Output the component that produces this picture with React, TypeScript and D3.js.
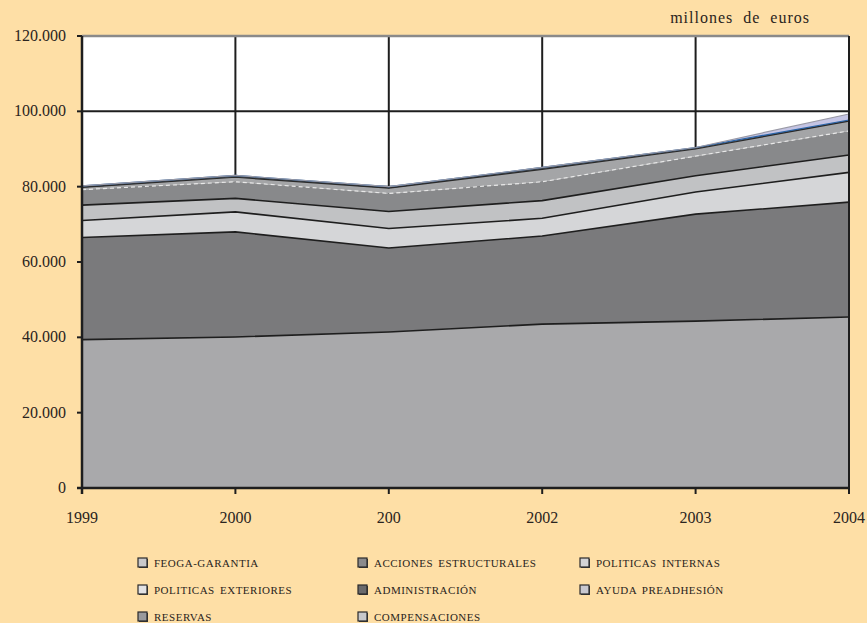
import React from "react";
import * as d3 from "d3";

const years = ["1999", "2000", "2001", "2002", "2003", "2004"];
const yearLabels = ["1999", "2000", "200", "2002", "2003", "2004"];
const yTicks = [0, 20000, 40000, 60000, 80000, 100000, 120000];
const yTickLabels = ["0", "20.000", "40.000", "60.000", "80.000", "100.000", "120.000"];

const feoga = [39400, 40100, 41400, 43500, 44300, 45400];
const acciones = [27100, 27900, 22300, 23400, 28400, 30500];
const internas = [4500, 5300, 5200, 4700, 5900, 7900];
const exteriores = [4100, 3600, 4500, 4700, 4300, 4600];
const administracion = [4100, 4400, 4800, 5000, 5200, 6400];
const preadhesion = [600, 1200, 1400, 3300, 1900, 2600];
const reservas = [400, 500, 400, 500, 400, 300];
const compensaciones = [0, 0, 0, 0, 0, 1600];

const seriesNames = [
  "FEOGA-GARANTIA",
  "ACCIONES ESTRUCTURALES",
  "POLITICAS INTERNAS",
  "POLITICAS EXTERIORES",
  "ADMINISTRACIÓN",
  "AYUDA PREADHESIÓN",
  "RESERVAS",
  "COMPENSACIONES",
];
const seriesValues = [feoga, acciones, internas, exteriores, administracion, preadhesion, reservas, compensaciones];
const fills = ["#a9a9ab", "#7a7a7c", "#d5d6d8", "#c1c2c4", "#88898b", "#a4a5a7", "#44505e", "#c4c4e4"];
const topStrokes = ["#1e1e1e", "#1e1e1e", "#1e1e1e", "#1e1e1e", "#e8e8e8", "#2a2a2a", "#2a64a8", "#9a9aa6"];
const topDash = ["", "", "", "", "4,3", "", "", ""];
const legendFills = ["#c9c9cb", "#8a8a8c", "#d3d3d5", "#e2e2e4", "#6a6a6c", "#c8c8d0", "#9a9a9c", "#c8c8ca"];

const W = 867;
const H = 623;
const L = 82, R = 849, T = 36, B = 488;

export default function App() {
  const x = d3.scalePoint<string>().domain(years).range([L, R]);
  const y = d3.scaleLinear().domain([0, 120000]).range([B, T]);

  const table = years.map((yr, i) => {
    const row: any = { year: yr };
    seriesNames.forEach((n, k) => (row[n] = seriesValues[k][i]));
    return row;
  });
  const stacked = d3.stack<any>().keys(seriesNames)(table);

  const area = d3
    .area<any>()
    .x((d) => x(d.data.year) as number)
    .y0((d) => y(d[0]))
    .y1((d) => y(d[1]));
  const line = d3
    .line<any>()
    .x((d) => x(d.data.year) as number)
    .y((d) => y(d[1]));

  const legendCols = [138, 358, 580];
  const legendRows = [563, 590, 617];

  return (
    <div style={{ position: "absolute", left: 0, top: 0 }}>
      <svg width={W} height={H} style={{ display: "block" }}>
        <rect x={0} y={0} width={W} height={H} fill="#fedfa6" />
        <rect x={L} y={T} width={R - L} height={B - T} fill="#ffffff" />
        {/* grid */}
        {yTicks.slice(1, -1).map((t) => (
          <line key={"h" + t} x1={L} x2={R} y1={y(t)} y2={y(t)} stroke="#1e1e1e" strokeWidth={2} />
        ))}
        {years.slice(1).map((yr) => (
          <line key={"v" + yr} x1={x(yr)} x2={x(yr)} y1={T} y2={B} stroke="#1e1e1e" strokeWidth={2} />
        ))}
        <line x1={L} x2={R} y1={T} y2={T} stroke="#8a8a8a" strokeWidth={2.5} />
        {/* areas */}
        {stacked.map((s, k) => (
          <path key={"a" + k} d={area(s) as string} fill={fills[k]} stroke="none" />
        ))}
        {stacked.map((s, k) => (
          <path
            key={"l" + k}
            d={line(s) as string}
            fill="none"
            stroke={topStrokes[k]}
            strokeWidth={k >= 4 ? 1.2 : 1.6}
            strokeDasharray={topDash[k] || undefined}
          />
        ))}
        {/* right gridline on top */}
        <line x1={R} x2={R} y1={T} y2={B + 6} stroke="#1e1e1e" strokeWidth={2} />
        {/* axes */}
        <line x1={L} x2={L} y1={T} y2={B + 6} stroke="#1e1e1e" strokeWidth={2.5} />
        <line x1={L - 5} x2={R} y1={B} y2={B} stroke="#1e1e1e" strokeWidth={2.5} />
        {yTicks.map((t, i) => (
          <g key={"yt" + t}>
            <line x1={L - 5} x2={L} y1={y(t)} y2={y(t)} stroke="#1e1e1e" strokeWidth={2} />
            <text
              x={66}
              y={y(t) + 5}
              textAnchor="end"
              fontFamily="'Liberation Serif', serif"
              fontSize={16}
              fill="#2a2420"
            >
              {yTickLabels[i]}
            </text>
          </g>
        ))}
        {years.map((yr, i) => (
          <g key={"xt" + yr}>
            <line x1={x(yr)} x2={x(yr)} y1={B} y2={B + 6} stroke="#1e1e1e" strokeWidth={2} />
            <text
              x={x(yr)}
              y={523}
              textAnchor="middle"
              fontFamily="'Liberation Serif', serif"
              fontSize={16}
              fill="#2a2420"
            >
              {yearLabels[i]}
            </text>
          </g>
        ))}
        <text
          x={810}
          y={23}
          textAnchor="end"
          fontFamily="'Liberation Serif', serif"
          fontSize={16}
          letterSpacing={1}
          wordSpacing={5}
          fill="#2a2420"
        >
          millones de euros
        </text>
        {/* legend */}
        {seriesNames.map((n, k) => {
          const cx = legendCols[k % 3];
          const cy = legendRows[Math.floor(k / 3)];
          return (
            <g key={"lg" + k}>
              <rect x={cx + 1} y={cy - 4} width={9} height={9} fill="#3a3a3a" />
              <rect x={cx} y={cy - 5} width={9} height={9} fill={legendFills[k]} stroke="#2a2a2a" strokeWidth={1.2} />
              <text
                x={cx + 16}
                y={cy + 4}
                fontFamily="'Liberation Serif', serif"
                fontSize={11}
                letterSpacing={0.5}
                wordSpacing={2}
                fill="#2a2420"
              >
                {n}
              </text>
            </g>
          );
        })}
      </svg>
    </div>
  );
}
